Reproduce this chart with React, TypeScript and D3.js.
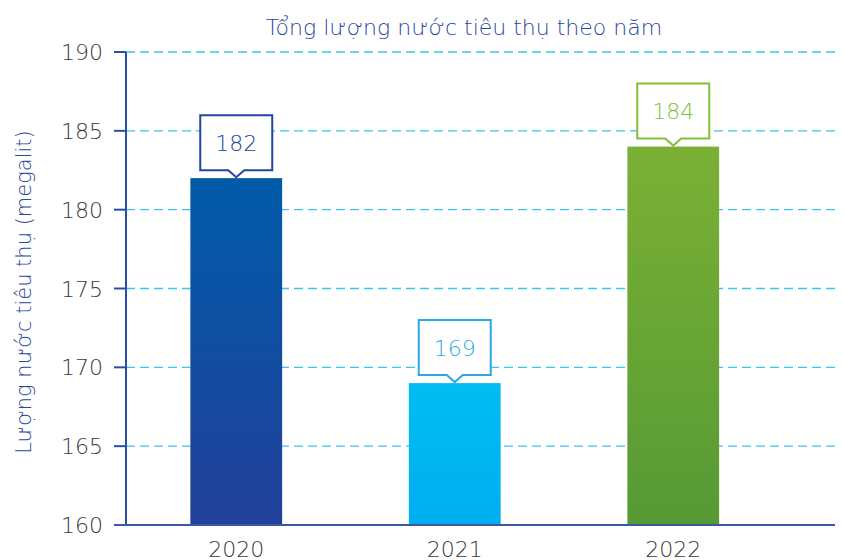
import React from "react";
import * as d3 from "d3";

const years = ["2020", "2021", "2022"];
const values = [182, 169, 184];
const yTicks = [160, 165, 170, 175, 180, 185, 190];
const topColors = ["#005ba9", "#00bdf2", "#7bb035"];
const bottomColors = ["#22409a", "#00aeef", "#569a35"];
const labelColors = ["#2444a0", "#2aa8e2", "#80c03a"];
const title = "Tổng lượng nước tiêu thụ theo năm";
const yTitle = "Lượng nước tiêu thụ (megalit)";

const W = 844;
const H = 560;
const FONT = "'DejaVu Sans', 'Noto Sans', sans-serif";

export default function App() {
  const y = d3.scaleLinear().domain([160, 190]).range([525, 52]);
  const x = d3
    .scaleBand<string>()
    .domain(years)
    .range([127, 782.5])
    .paddingInner(0.58)
    .paddingOuter(0.29);
  const axisX = 126;
  const gridEnd = 835;

  return (
    <svg
      width={W}
      height={H}
      style={{ position: "absolute", left: 0, top: 0, background: "#fff" }}
      fontFamily={FONT}
      fontWeight={200}
    >
      <defs>
        {years.map((yr, i) => (
          <linearGradient key={yr} id={`g${i}`} x1="0" y1="0" x2="0" y2="1">
            <stop offset="0%" stopColor={topColors[i]} />
            <stop offset="100%" stopColor={bottomColors[i]} />
          </linearGradient>
        ))}
      </defs>
      <text x={464} y={35} textAnchor="middle" fontSize={22} fill="#2a47a0">
        {title}
      </text>
      {/* gridlines */}
      {yTicks
        .filter((t) => t !== 160)
        .map((t) => (
          <line
            key={t}
            x1={axisX}
            x2={gridEnd}
            y1={y(t)}
            y2={y(t)}
            stroke="#3cc4f2"
            strokeWidth={1.4}
            strokeDasharray="9 5"
          />
        ))}
      {/* bars */}
      {years.map((yr, i) => (
        <rect
          key={yr}
          x={x(yr)!}
          y={y(values[i])}
          width={x.bandwidth()}
          height={y(160) - y(values[i])}
          fill={`url(#g${i})`}
        />
      ))}
      {/* value callouts */}
      {years.map((yr, i) => {
        const cx = x(yr)! + x.bandwidth() / 2;
        const top = y(values[i]);
        const bw = 72;
        const bh = 55;
        const bBottom = top - 8;
        const bTop = bBottom - bh;
        const tip = top - 1;
        const hw = 8;
        const d = `M${cx - bw / 2},${bTop} L${cx + bw / 2},${bTop} L${cx + bw / 2},${bBottom} L${cx + hw},${bBottom} L${cx},${tip} L${cx - hw},${bBottom} L${cx - bw / 2},${bBottom} Z`;
        return (
          <g key={yr}>
            <path d={d} fill="#fff" stroke={labelColors[i]} strokeWidth={2} />
            <text
              x={cx}
              y={bTop + bh / 2 + 8}
              textAnchor="middle"
              fontSize={22}
              fill={labelColors[i]}
            >
              {values[i]}
            </text>
          </g>
        );
      })}
      {/* y axis */}
      <line x1={axisX} x2={axisX} y1={y(190)} y2={y(160)} stroke="#2a4ea0" strokeWidth={2} />
      {yTicks.map((t) => (
        <g key={t}>
          <line x1={114} x2={axisX} y1={y(t)} y2={y(t)} stroke="#2a4ea0" strokeWidth={2} />
          <text x={103} y={y(t) + 8} textAnchor="end" fontSize={22} fill="#3a3a3a">
            {t}
          </text>
        </g>
      ))}
      {/* x axis */}
      <line x1={114} x2={gridEnd} y1={y(160)} y2={y(160)} stroke="#3a5aa8" strokeWidth={2} />
      {years.map((yr) => (
        <text
          key={yr}
          x={x(yr)! + x.bandwidth() / 2}
          y={557}
          textAnchor="middle"
          fontSize={22}
          fill="#3a3a3a"
        >
          {yr}
        </text>
      ))}
      <text
        transform={`translate(31,292) rotate(-90)`}
        textAnchor="middle"
        fontSize={21}
        fill="#2a47a0"
      >
        {yTitle}
      </text>
    </svg>
  );
}
